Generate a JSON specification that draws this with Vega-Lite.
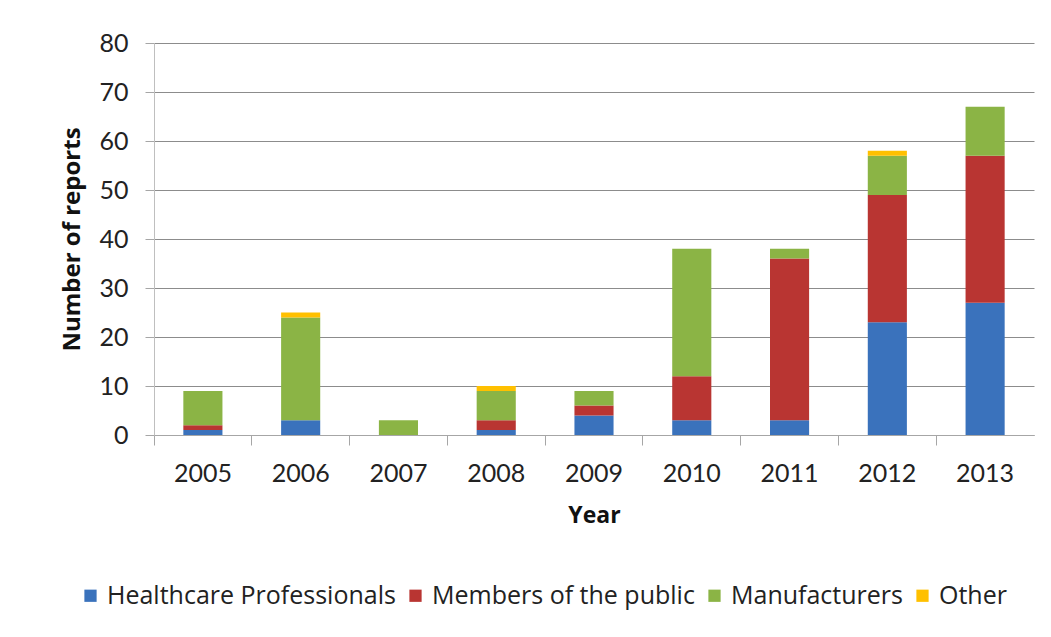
{
  "$schema": "https://vega.github.io/schema/vega-lite/v6.json",
  "width": 880,
  "height": 392,
  "autosize": {"type": "none"},
  "padding": {"left": 154, "top": 43, "right": 17, "bottom": 202},
  "background": "white",
  "data": {
    "values": [
      {"year": "2005", "source": "Healthcare Professionals", "ord": 1, "reports": 1},
      {"year": "2005", "source": "Members of the public", "ord": 2, "reports": 1},
      {"year": "2005", "source": "Manufacturers", "ord": 3, "reports": 7},
      {"year": "2005", "source": "Other", "ord": 4, "reports": 0},
      {"year": "2006", "source": "Healthcare Professionals", "ord": 1, "reports": 3},
      {"year": "2006", "source": "Members of the public", "ord": 2, "reports": 0},
      {"year": "2006", "source": "Manufacturers", "ord": 3, "reports": 21},
      {"year": "2006", "source": "Other", "ord": 4, "reports": 1},
      {"year": "2007", "source": "Healthcare Professionals", "ord": 1, "reports": 0},
      {"year": "2007", "source": "Members of the public", "ord": 2, "reports": 0},
      {"year": "2007", "source": "Manufacturers", "ord": 3, "reports": 3},
      {"year": "2007", "source": "Other", "ord": 4, "reports": 0},
      {"year": "2008", "source": "Healthcare Professionals", "ord": 1, "reports": 1},
      {"year": "2008", "source": "Members of the public", "ord": 2, "reports": 2},
      {"year": "2008", "source": "Manufacturers", "ord": 3, "reports": 6},
      {"year": "2008", "source": "Other", "ord": 4, "reports": 1},
      {"year": "2009", "source": "Healthcare Professionals", "ord": 1, "reports": 4},
      {"year": "2009", "source": "Members of the public", "ord": 2, "reports": 2},
      {"year": "2009", "source": "Manufacturers", "ord": 3, "reports": 3},
      {"year": "2009", "source": "Other", "ord": 4, "reports": 0},
      {"year": "2010", "source": "Healthcare Professionals", "ord": 1, "reports": 3},
      {"year": "2010", "source": "Members of the public", "ord": 2, "reports": 9},
      {"year": "2010", "source": "Manufacturers", "ord": 3, "reports": 26},
      {"year": "2010", "source": "Other", "ord": 4, "reports": 0},
      {"year": "2011", "source": "Healthcare Professionals", "ord": 1, "reports": 3},
      {"year": "2011", "source": "Members of the public", "ord": 2, "reports": 33},
      {"year": "2011", "source": "Manufacturers", "ord": 3, "reports": 2},
      {"year": "2011", "source": "Other", "ord": 4, "reports": 0},
      {"year": "2012", "source": "Healthcare Professionals", "ord": 1, "reports": 23},
      {"year": "2012", "source": "Members of the public", "ord": 2, "reports": 26},
      {"year": "2012", "source": "Manufacturers", "ord": 3, "reports": 8},
      {"year": "2012", "source": "Other", "ord": 4, "reports": 1},
      {"year": "2013", "source": "Healthcare Professionals", "ord": 1, "reports": 27},
      {"year": "2013", "source": "Members of the public", "ord": 2, "reports": 30},
      {"year": "2013", "source": "Manufacturers", "ord": 3, "reports": 10},
      {"year": "2013", "source": "Other", "ord": 4, "reports": 0}
    ]
  },
  "mark": {"type": "bar", "width": {"band": 0.4}},
  "encoding": {
    "x": {
      "field": "year",
      "type": "ordinal",
      "title": "Year",
      "scale": {"paddingInner": 0, "paddingOuter": 0},
      "axis": {
        "labelAngle": 0,
        "bandPosition": 0,
        "labelFont": "Lato",
        "labelFontSize": 25,
        "labelColor": "#222222",
        "labelPadding": 16,
        "tickSize": 10,
        "tickColor": "#a6a6a6",
        "domainColor": "#a6a6a6",
        "titleFont": "Open Sans",
        "titleFontSize": 23,
        "titleFontWeight": "bold",
        "titleColor": "#111111",
        "titlePadding": 18
      }
    },
    "y": {
      "field": "reports",
      "type": "quantitative",
      "aggregate": "sum",
      "stack": "zero",
      "title": "Number of reports",
      "scale": {"domain": [0, 80]},
      "axis": {
        "values": [0, 10, 20, 30, 40, 50, 60, 70, 80],
        "labelFont": "Lato",
        "labelFontSize": 25,
        "labelColor": "#222222",
        "labelPadding": 17,
        "tickSize": 9,
        "tickColor": "#a6a6a6",
        "domainColor": "#bfbfbf",
        "gridColor": "#8c8c8c",
        "gridWidth": 1,
        "titleFont": "Open Sans",
        "titleFontSize": 24,
        "titleFontWeight": "bold",
        "titleColor": "#111111",
        "titlePadding": 14
      }
    },
    "color": {
      "field": "source",
      "type": "nominal",
      "title": null,
      "scale": {
        "domain": ["Healthcare Professionals", "Members of the public", "Manufacturers", "Other"],
        "range": ["#3A72BC", "#B93532", "#8BB445", "#FFC000"]
      },
      "legend": {
        "orient": "none",
        "direction": "horizontal",
        "legendX": -76,
        "legendY": 540,
        "symbolType": "square",
        "symbolSize": 150,
        "symbolStrokeWidth": 0,
        "labelFont": "Open Sans",
        "labelFontSize": 25,
        "labelColor": "#222222",
        "labelOffset": 4,
        "columnPadding": 7,
        "labelLimit": 400
      }
    },
    "order": {"field": "ord", "type": "quantitative"}
  },
  "config": {
    "view": {"stroke": null},
    "axisX": {"grid": false}
  }
}
